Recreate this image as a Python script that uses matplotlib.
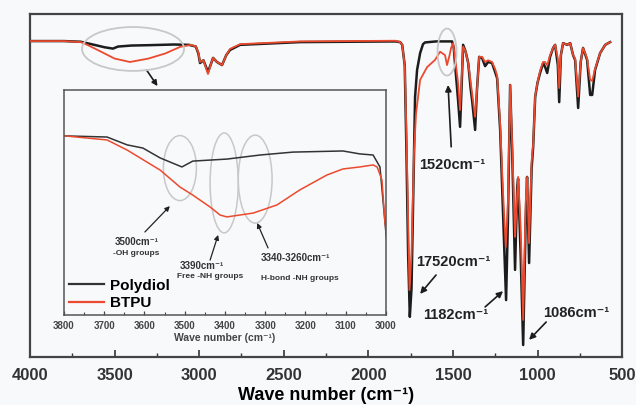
import numpy as np
import matplotlib
matplotlib.use("Agg")
import matplotlib.pyplot as plt
from matplotlib.patches import Ellipse

plt.rcParams['font.family'] = ['Liberation Sans', 'DejaVu Sans']
plt.rcParams['font.weight'] = 'bold'

# main spectrum, Polydiol (wave number, transmittance)
poly_wn = [4000, 3800, 3700, 3620, 3560, 3510, 3480, 3400, 3300, 3150, 3060, 3020,
           3005, 2995, 2975, 2948, 2930, 2918, 2895, 2865, 2840, 2818, 2758, 2404,
           1842, 1812, 1800, 1785, 1775, 1765, 1755, 1745, 1724, 1712, 1694, 1677,
           1665, 1600, 1505, 1495, 1487, 1470, 1458, 1448, 1440, 1425, 1410, 1395,
           1387, 1369, 1358, 1345, 1328, 1310, 1292, 1269, 1251, 1239, 1221, 1204,
           1186, 1175, 1162, 1150, 1133, 1120, 1115, 1100, 1085, 1070, 1062, 1050,
           1035, 1026, 1014, 1000, 985, 967, 955, 943, 926, 908, 896, 880, 872, 862,
           849, 825, 807, 790, 778, 760, 745, 731, 707, 689, 677, 660, 630, 600, 571]
poly_t = [92.1, 92.1, 91.9, 91.0, 90.3, 89.9, 90.5, 90.8, 90.9, 91.1, 91.0, 90.5,
          88.5, 85.7, 86.5, 83.1, 85.5, 87.2, 86.0, 85.1, 88.0, 89.5, 91.0, 91.8,
          92.0, 91.8, 91.0, 85.0, 60.0, 30.0, 11.7, 20.0, 75.8, 83.7, 88.6, 91.2,
          91.7, 92.0, 92.0, 90.0, 85.0, 75.0, 67.1, 80.0, 91.0, 89.0, 85.7, 78.0,
          74.9, 66.2, 78.0, 87.5, 87.2, 84.8, 86.0, 85.7, 83.1, 81.3, 66.2, 42.0,
          16.6, 40.0, 79.3, 60.0, 25.4, 49.6, 52.0, 30.0, 3.5, 40.0, 52.5, 27.4,
          55.0, 61.2, 75.8, 80.0, 82.8, 85.7, 84.5, 82.8, 87.5, 90.1, 91.0, 85.0,
          74.3, 88.0, 91.5, 91.0, 91.5, 88.0, 86.6, 72.6, 86.0, 90.1, 86.6, 76.4,
          76.4, 83.7, 88.6, 91.0, 91.8]

# main spectrum, BTPU
btpu_wn = [4000, 3800, 3700, 3687, 3600, 3500, 3409, 3300, 3200, 3113, 3050, 3020,
           3005, 2995, 2975, 2948, 2930, 2918, 2895, 2865, 2840, 2818, 2758, 2404,
           1842, 1812, 1800, 1785, 1775, 1765, 1757, 1745, 1730, 1718, 1694, 1653,
           1606, 1576, 1547, 1535, 1520, 1511, 1499, 1487, 1470, 1458, 1448, 1440,
           1425, 1410, 1395, 1369, 1355, 1345, 1328, 1310, 1292, 1269, 1251, 1239,
           1221, 1204, 1188, 1175, 1162, 1150, 1133, 1115, 1100, 1085, 1070, 1062,
           1050, 1035, 1026, 1014, 1000, 985, 967, 955, 943, 926, 908, 896, 880, 872,
           862, 849, 825, 807, 790, 778, 760, 745, 731, 707, 689, 677, 660, 630, 600, 571]
btpu_t = [92.1, 92.1, 91.8, 91.6, 89.5, 87.0, 86.0, 87.0, 88.5, 90.4, 91.0, 90.5,
          88.8, 86.0, 86.5, 82.5, 85.5, 87.2, 86.0, 85.1, 88.0, 89.8, 91.2, 92.0,
          92.2, 91.8, 91.0, 85.0, 65.0, 40.0, 19.5, 30.0, 60.0, 71.1, 80.8, 84.5,
          86.6, 89.0, 88.0, 85.1, 88.0, 90.1, 91.5, 87.0, 80.0, 72.0, 82.0, 90.5,
          89.0, 85.7, 80.0, 70.0, 80.0, 87.5, 87.5, 86.0, 86.5, 86.0, 84.0, 82.0,
          68.0, 48.0, 32.1, 45.0, 79.3, 62.0, 35.0, 52.5, 38.0, 10.8, 45.0, 52.5,
          33.2, 57.0, 62.0, 76.0, 80.0, 83.5, 86.0, 86.0, 85.0, 88.0, 90.1, 91.0,
          87.0, 78.4, 88.0, 91.5, 91.0, 91.5, 88.0, 87.0, 75.9, 86.0, 90.1, 87.0,
          80.8, 80.5, 84.0, 88.6, 91.0, 91.8]

# inset, 3800-3000 cm-1
in_poly_wn = [3798, 3693, 3643, 3604, 3561, 3507, 3480, 3395, 3313, 3231, 3107,
              3065, 3032, 3015, 3003, 3000, 2990]
in_poly_t = [79.6, 79.1, 75.6, 74.2, 69.8, 65.8, 68.4, 69.3, 71.1, 72.4, 72.9,
             71.6, 71.1, 65.8, 42.2, 36.0, 20.0]
in_btpu_wn = [3798, 3693, 3643, 3561, 3512, 3480, 3437, 3412, 3395, 3330, 3271,
              3214, 3147, 3107, 3065, 3032, 3022, 3010, 3003, 3000, 2990]
in_btpu_t = [79.6, 77.8, 73.3, 64.4, 56.9, 53.3, 48.0, 44.4, 43.6, 45.3, 48.9,
             55.6, 62.2, 64.9, 65.8, 66.7, 65.8, 60.0, 42.2, 38.0, 20.0]

main_ticks = [4000, 3500, 3000, 2500, 2000, 1500, 1000, 500]
inset_ticks = [3800, 3700, 3600, 3500, 3400, 3300, 3200, 3100, 3000]

black = '#1c1c1c'
red = '#ec4a2e'
grey = '#c8c8c8'
bg = '#f8f9fb'

fig = plt.figure(figsize=(6.36, 4.05), dpi=100, facecolor=bg)
ax = fig.add_axes([0.0472, 0.1185, 0.931, 0.847], facecolor=bg)
ax.plot(poly_wn, poly_t, color=black, lw=1.8, zorder=2)
ax.plot(btpu_wn, btpu_t, color=red, lw=1.3, zorder=3)
ax.set_xlim(4000, 500)
ax.set_ylim(0, 100)
ax.set_yticks([])
ax.set_xticks(main_ticks)
ax.set_xticks(np.arange(3750, 500, -500), minor=True)
ax.tick_params(axis='x', which='major', direction='in', length=5, width=1.2,
               labelsize=12, pad=8, colors='#333333')
ax.tick_params(axis='x', which='minor', direction='in', length=3, width=1.0,
               colors='#333333')
for lab in ax.get_xticklabels():
    lab.set_fontweight('bold')
ax.set_xlabel('Wave number (cm⁻¹)', fontsize=13, fontweight='bold', labelpad=3)
for s in ax.spines.values():
    s.set_color('#444444')
    s.set_linewidth(1.6)

ax.add_patch(Ellipse((3391, 89.8), 603, 12.8, fill=False, ec=grey, lw=1.3, zorder=4))
ax.add_patch(Ellipse((1535, 88.9), 112, 13.7, fill=False, ec=grey, lw=1.3, zorder=4))
ax.annotate('', xy=(3237, 78.3), xytext=(3320, 84.3),
            arrowprops=dict(arrowstyle='-|>', color=black, lw=1.2, mutation_scale=8))

ann = dict(arrowstyle='-|>', color=black, lw=1.2, mutation_scale=9)
ax.annotate('1520cm⁻¹', xy=(1529, 79.3), xytext=(1505, 56.0), fontsize=10.5,
            fontweight='bold', ha='center', va='center', color='#222222',
            arrowprops=dict(ann, shrinkA=6, shrinkB=0))
ax.annotate('', xy=(1694, 18.4), xytext=(1600, 23.9),
            arrowprops=dict(ann, shrinkA=0, shrinkB=0))
ax.text(1499, 27.7, '17520cm⁻¹', fontsize=10.5, fontweight='bold', ha='center',
        va='center', color='#222222')
ax.annotate('', xy=(1204, 19.2), xytext=(1310, 14.6),
            arrowprops=dict(ann, shrinkA=0, shrinkB=0))
ax.text(1481, 12.2, '1182cm⁻¹', fontsize=10.5, fontweight='bold', ha='center',
        va='center', color='#222222')
ax.annotate('', xy=(1050, 5.0), xytext=(949, 10.2),
            arrowprops=dict(ann, shrinkA=0, shrinkB=0))
ax.text(772, 12.8, '1086cm⁻¹', fontsize=10.5, fontweight='bold', ha='center',
        va='center', color='#222222')

# inset
ins = fig.add_axes([0.1006, 0.2222, 0.5063, 0.5556], facecolor=bg)
ins.plot(in_poly_wn, in_poly_t, color='#333333', lw=1.1, label='Polydiol')
ins.plot(in_btpu_wn, in_btpu_t, color=red, lw=1.1, label='BTPU')
ins.set_xlim(3800, 3000)
ins.set_ylim(0, 100)
ins.set_yticks([])
ins.set_xticks(inset_ticks)
ins.set_xticks(np.arange(3750, 3000, -100), minor=True)
ins.tick_params(axis='x', which='major', direction='in', length=3, width=0.9,
                labelsize=7, pad=4, colors='#444444')
ins.tick_params(axis='x', which='minor', direction='in', length=2, width=0.8,
                colors='#444444')
for lab in ins.get_xticklabels():
    lab.set_fontweight('bold')
ins.set_xlabel('Wave number (cm⁻¹)', fontsize=7.5, fontweight='bold',
               color='#444444', labelpad=2)
for s in ins.spines.values():
    s.set_color('#555555')
    s.set_linewidth(1.1)

ins.add_patch(Ellipse((3512, 65.3), 82, 28.9, fill=False, ec=grey, lw=1.1))
ins.add_patch(Ellipse((3402, 58.7), 70, 44.4, fill=False, ec=grey, lw=1.1))
ins.add_patch(Ellipse((3325, 60.4), 84, 39.1, fill=False, ec=grey, lw=1.1))

small = dict(arrowstyle='-|>', color='#222222', lw=0.9, mutation_scale=7,
             shrinkA=0, shrinkB=0)
ins.annotate('', xy=(3537, 48.4), xytext=(3599, 36.9), arrowprops=small)
ins.annotate('', xy=(3417, 35.6), xytext=(3437, 24.4), arrowprops=small)
ins.annotate('', xy=(3320, 40.9), xytext=(3293, 29.8), arrowprops=small)
ins.text(3619, 32.4, '3500cm⁻¹', fontsize=7, fontweight='bold', ha='center',
         va='center', color='#333333')
ins.text(3621, 27.4, '-OH groups', fontsize=6, fontweight='bold', ha='center',
         va='center', color='#333333')
ins.text(3457, 21.8, '3390cm⁻¹', fontsize=7, fontweight='bold', ha='center',
         va='center', color='#333333')
ins.text(3437, 16.9, 'Free -NH groups', fontsize=6, fontweight='bold',
         ha='center', va='center', color='#333333')
ins.text(3226, 25.3, '3340-3260cm⁻¹', fontsize=7, fontweight='bold', ha='center',
         va='center', color='#333333')
ins.text(3214, 16.4, 'H-bond -NH groups', fontsize=6, fontweight='bold',
         ha='center', va='center', color='#333333')

leg = ins.legend(loc='lower left', bbox_to_anchor=(0.0, 0.0), frameon=False,
                 prop={'weight': 'bold', 'size': 11}, handlelength=2.3,
                 handletextpad=0.4, borderaxespad=0.1, borderpad=0.2,
                 labelspacing=0.25)
for line in leg.get_lines():
    line.set_linewidth(1.6)

fig.savefig('out.png', dpi=100, facecolor=bg)
